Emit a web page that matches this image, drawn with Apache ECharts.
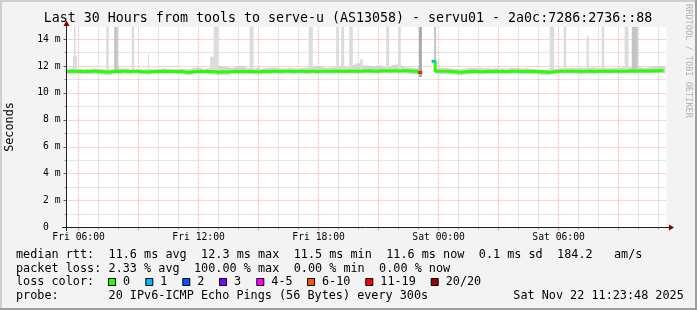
<!DOCTYPE html>
<html><head><meta charset="utf-8">
<script src="https://cdn.jsdelivr.net/npm/echarts@6/dist/echarts.min.js"></script>
<style>html,body{margin:0;padding:0;background:#f3f3f3;}#c{width:697px;height:310px;}</style>
</head><body><div id="c"></div>
<script>
// ================= DATA =================
// time is expressed in hours since Fri 00:00
const rangeStartHour = 5 + 23.8 / 60;   // Fri 05:23:48
const rangeHours = 30;
const firstSampleHour = 5 + 25 / 60;    // first plotted sample, Fri 05:25
const sampleStepHours = 1 / 6;          // one value every 10 minutes

// median rtt (ms); one row per hour (6 samples), null = 100% loss
const medianRtt = [
  11.60, 11.62, 11.61, 11.60, 11.61, 11.60,
  11.61, 11.60, 11.62, 11.61, 11.60, 11.58,
  11.55, 11.56, 11.60, 11.61, 11.60, 11.62,
  11.61, 11.60, 11.61, 11.62, 11.60, 11.58,
  11.56, 11.58, 11.60, 11.61, 11.60, 11.61,
  11.60, 11.61, 11.60, 11.60, 11.61, 11.57,
  11.53, 11.54, 11.58, 11.60, 11.61, 11.60,
  11.61, 11.60, 11.59, 11.55, 11.56, 11.57,
  11.55, 11.58, 11.60, 11.61, 11.60, 11.62,
  11.60, 11.61, 11.60, 11.57, 11.58, 11.60,
  11.61, 11.60, 11.62, 11.61, 11.60, 11.61,
  11.62, 11.61, 11.60, 11.61, 11.62, 11.61,
  11.60, 11.61, 11.62, 11.60, 11.61, 11.62,
  11.61, 11.62, 11.61, 11.63, 11.62, 11.61,
  11.62, 11.63, 11.62, 11.61, 11.62, 11.63,
  11.63, 11.64, 11.63, 11.62, 11.63, 11.64,
  11.64, 11.63, 11.64, 11.65, 11.63, 11.64,
  11.64, 11.63, 11.62, 11.61, 11.52, null,
  null,  null,  12.35, 11.62, 11.61, 11.62,
  11.61, 11.60, 11.58, 11.55, 11.54, 11.57,
  11.58, 11.60, 11.61, 11.60, 11.58, 11.60,
  11.61, 11.60, 11.61, 11.60, 11.61, 11.60,
  11.60, 11.61, 11.62, 11.61, 11.60, 11.61,
  11.60, 11.61, 11.60, 11.58, 11.57, 11.55,
  11.53, 11.56, 11.60, 11.61, 11.62, 11.61,
  11.62, 11.61, 11.62, 11.61, 11.60, 11.61,
  11.62, 11.61, 11.60, 11.61, 11.62, 11.63,
  11.62, 11.61, 11.63, 11.62, 11.61, 11.62,
  11.63, 11.64, 11.62, 11.63, 11.64, 11.63,
  11.64, 11.63, 11.65, 11.64, 11.66, 11.64
];

// lowest / highest ping of the "smoke" per sample (ms)
const smokeLow = [
  11.42, 11.38, 11.40, 11.44, 11.40, 11.42,
  11.40, 11.44, 11.42, 11.40, 11.38, 11.36,
  11.34, 11.36, 11.40, 11.42, 11.40, 11.44,
  11.42, 11.40, 11.44, 11.42, 11.38, 11.40,
  11.36, 11.38, 11.42, 11.40, 11.44, 11.42,
  11.40, 11.42, 11.44, 11.40, 11.42, 11.38,
  11.32, 11.34, 11.38, 11.42, 11.40, 11.42,
  11.40, 11.38, 11.36, 11.32, 11.34, 11.36,
  11.34, 11.38, 11.40, 11.42, 11.40, 11.38,
  11.40, 11.42, 11.40, 11.36, 11.38, 11.40,
  11.42, 11.40, 11.44, 11.42, 11.40, 11.42,
  11.44, 11.42, 11.40, 11.42, 11.44, 11.42,
  11.40, 11.42, 11.44, 11.40, 11.42, 11.44,
  11.42, 11.44, 11.42, 11.45, 11.44, 11.42,
  11.44, 11.45, 11.44, 11.42, 11.44, 11.45,
  11.45, 11.46, 11.44, 11.42, 11.45, 11.46,
  11.46, 11.44, 11.45, 11.47, 11.44, 11.46,
  11.44, 11.42, 11.40, 11.38, 11.20, null,
  null,  null,  null,  11.42, 11.40, 11.42,
  11.40, 11.38, 11.36, 11.34, 11.32, 11.36,
  11.38, 11.40, 11.42, 11.40, 11.38, 11.40,
  11.42, 11.40, 11.42, 11.40, 11.42, 11.40,
  11.40, 11.42, 11.44, 11.42, 11.40, 11.42,
  11.40, 11.42, 11.40, 11.38, 11.36, 11.34,
  11.32, 11.36, 11.40, 11.42, 11.44, 11.42,
  11.44, 11.42, 11.44, 11.42, 11.40, 11.42,
  11.44, 11.42, 11.40, 11.42, 11.44, 11.45,
  11.44, 11.42, 11.45, 11.44, 11.42, 11.44,
  11.45, 11.46, 11.44, 11.45, 11.46, 11.45,
  11.46, 11.45, 11.47, 11.46, 11.48, 11.46
];
const smokeHigh = [
  11.75, 11.82, 11.85, 11.80, 11.78, 11.75,
  11.76, 11.80, 11.82, 11.80, 11.78, 11.76,
  11.74, 11.76, 11.78, 11.80, 11.84, 11.82,
  11.82, 11.76, 11.75, 11.78, 11.76, 11.74,
  11.76, 11.78, 11.74, 11.76, 11.80, 11.82,
  11.80, 11.78, 11.76, 11.75, 11.77, 11.78,
  11.76, 11.78, 11.85, 11.90, 11.86, 11.78,
  11.80, 11.85, 11.82, 11.95, 12.00, 11.96,
  11.92, 11.85, 11.88, 11.96, 12.02, 11.94,
  11.85, 11.82, 11.80, 11.85, 11.80, 11.82,
  11.84, 11.88, 11.90, 11.86, 11.82, 11.80,
  11.82, 11.86, 11.84, 11.80, 11.84, 11.86,
  11.88, 11.92, 11.98, 12.00, 11.96, 11.90,
  11.86, 11.88, 11.92, 11.90, 11.94, 11.92,
  11.90, 11.96, 12.10, 12.18, 12.20, 12.05,
  12.05, 12.02, 12.00, 11.98, 12.04, 11.95,
  11.92, 11.96, 12.08, 12.10, 12.05, 11.95,
  11.90, 11.88, 11.86, 11.84, 11.80, null,
  null,  null,  null,  11.82, 11.86, 11.84,
  11.85, 11.82, 11.80, 11.78, 11.76, 11.80,
  11.82, 11.86, 11.85, 11.84, 11.86, 11.82,
  11.84, 11.80, 11.82, 11.84, 11.80, 11.82,
  11.80, 11.84, 11.86, 11.85, 11.82, 11.80,
  11.84, 11.80, 11.78, 11.76, 11.74, 11.72,
  11.70, 11.74, 11.78, 11.80, 11.84, 11.82,
  11.84, 11.86, 11.85, 11.82, 11.86, 11.84,
  11.84, 11.88, 11.90, 11.86, 11.84, 11.86,
  11.82, 11.84, 11.86, 11.84, 11.88, 11.90,
  11.92, 11.90, 11.88, 11.92, 11.90, 11.86,
  11.88, 11.90, 11.95, 12.00, 12.02, 11.98
];

// samples with lost pings: sample index, pings lost out of 20
const lossSampleIndex = [106, 107, 108, 109, 110];
const lossPings       = [15,  20,  20,  20,  1];

// outlier pings ("spikes" of smoke): start/end hour, bottom/top ms, darkness level
// a top of 16 ms means above the top of the scale
const spikeStart  = [5.72, 5.77, 7.38, 7.78, 8.66, 9.47, 12.58, 12.75, 14.55, 17.50, 18.88, 19.13, 19.53, 20.08, 21.38, 21.98, 23.03, 23.78, 29.55, 30.25, 31.40, 32.15, 33.30, 33.66];
const spikeEnd    = [5.92, 5.85, 7.51, 7.96, 8.78, 9.52, 12.78, 12.98, 14.75, 17.71, 19.01, 19.28, 19.71, 20.21, 21.53, 22.11, 23.16, 23.88, 29.78, 30.38, 31.51, 32.28, 33.50, 33.96];
const spikeBottom = [11.5, 11.7, 11.7, 11.7, 11.7, 11.7, 11.7, 11.7, 11.7, 11.7, 11.7, 11.7, 11.7, 11.7, 11.7, 11.7, 11.2, 12.3, 11.7, 11.7, 11.7, 11.7, 11.7, 11.7];
const spikeTop    = [12.7, 16, 16, 16, 16, 12.9, 12.7, 16, 16, 16, 16, 16, 16, 12.5, 16, 16, 16, 16, 16, 16, 14.2, 16, 16, 16];
const spikeLevel  = [1, 1, 1, 2, 1, 1, 1, 1, 1, 1, 1, 1, 1, 1, 1, 1, 3, 2, 1, 1, 1, 1, 1, 2];

// axes
const xLabelHours = [6, 12, 18, 24, 30];
const xLabelTexts = ['Fri 06:00', 'Fri 12:00', 'Fri 18:00', 'Sat 00:00', 'Sat 06:00'];
const yMax = 14.9;
const yLabelValues = [0, 2, 4, 6, 8, 10, 12, 14];
const yLabelTexts  = ['0  ', '2 m', '4 m', '6 m', '8 m', '10 m', '12 m', '14 m'];

// legend texts
const titleText = 'Last 30 Hours from tools to serve-u (AS13058) - servu01 - 2a0c:7286:2736::88';
const rttLine = ['median rtt:', '11.6 ms avg', '12.3 ms max', '11.5 ms min', '11.6 ms now', '0.1 ms sd', '184.2   am/s'];
const lossLine = ['packet loss:', '2.33 % avg', '100.00 % max', '0.00 % min', '0.00 % now'];
const lossColorLabels = ['0', '1', '2', '3', '4-5', '6-10', '11-19', '20/20'];
const lossColorUpper  = [0, 1, 2, 3, 5, 10, 19, 20];
const probeText = '20 IPv6-ICMP Echo Pings (56 Bytes) every 300s';
const dateText = 'Sat Nov 22 11:23:48 2025';

// ================= STYLE =================
const lossColors = ['#26ff00', '#00b8ff', '#0059ff', '#7e00ff', '#ff00ff', '#ff5500', '#ff0000', '#a10000'];
const spikeShades = { 1: '#dcdcdc', 2: '#c4c4c4', 3: '#a2a2a2' };
const smokeShade = '#d4d4d4';
const FONT = 'DejaVu Sans Mono';
const GRID = { left: 66.5, top: 27, width: 600, height: 200.5 };

// ================= BUILD =================
const sampleHour = i => firstSampleHour + i * sampleStepHours;
const medianData = medianRtt.map((v, i) => [sampleHour(i), v]);
const smokeData = [];
smokeLow.forEach((lo, i) => { if (lo != null && smokeHigh[i] != null) smokeData.push([sampleHour(i), lo, smokeHigh[i]]); });
const lossColorFor = n => { for (let k = 0; k < lossColorUpper.length; k++) if (n <= lossColorUpper[k]) return lossColors[k]; return lossColors[lossColors.length - 1]; };
const lossPoints = [];
lossSampleIndex.forEach((idx, k) => {
  if (medianRtt[idx] != null) lossPoints.push({ value: [sampleHour(idx), medianRtt[idx]], itemStyle: { color: lossColorFor(lossPings[k]) } });
});
const spikeData = spikeStart.map((s, i) => [s, spikeEnd[i], spikeBottom[i], spikeTop[i], spikeLevel[i]]);

const xMin = rangeStartHour, xMax = rangeStartHour + rangeHours;
const minorHours = [], majorHours = [];
for (let h = Math.ceil(xMin); h <= xMax; h++) { (h % 3 === 0 ? majorHours : minorHours).push(h); }
const yMinor = [], yMajor = [];
for (let v = 1; v <= yMax; v++) { (v % 2 === 0 ? yMajor : yMinor).push(v); }

const minorLine = { color: 'rgba(143,143,143,0.45)', width: 1, type: [1, 1] };
const majorLine = { color: 'rgba(255,95,95,0.55)', width: 1, type: [1, 1] };

const xAxes = [
  { type: 'value', position: 'bottom', min: xMin, max: xMax, axisLine: { show: false }, axisLabel: { show: false }, axisTick: { show: false }, splitLine: { show: false } },
  { type: 'value', position: 'bottom', min: xMin, max: xMax, axisLine: { show: false }, axisLabel: { show: false },
    axisTick: { show: true, customValues: minorHours, length: 2, lineStyle: { color: '#b0b0b0' } },
    splitLine: { show: true, lineStyle: minorLine } },
  { type: 'value', position: 'bottom', min: xMin, max: xMax, axisLine: { show: false }, axisLabel: { show: false },
    axisTick: { show: true, customValues: majorHours, length: 3, lineStyle: { color: '#ff8a8a' } },
    splitLine: { show: true, lineStyle: majorLine } },
  { type: 'value', position: 'bottom', min: xMin, max: xMax, axisLine: { show: false }, axisTick: { show: false }, splitLine: { show: false },
    axisLabel: { show: true, customValues: xLabelHours, margin: 5, color: '#000', fontFamily: FONT, fontSize: 9.7,
      formatter: v => xLabelTexts[xLabelHours.indexOf(Math.round(v))] || '' } }
];
const yAxes = [
  { type: 'value', position: 'left', min: 0, max: yMax, axisLine: { show: false }, splitLine: { show: false },
    axisTick: { show: true, customValues: yLabelValues, length: 3, lineStyle: { color: '#555' } },
    axisLabel: { show: true, customValues: yLabelValues, margin: 6, color: '#000', fontFamily: FONT, fontSize: 9.7,
      formatter: v => yLabelTexts[yLabelValues.indexOf(Math.round(v))] || '' } },
  { type: 'value', position: 'left', min: 0, max: yMax, axisLine: { show: false }, axisLabel: { show: false },
    axisTick: { show: true, customValues: yMinor, length: 2, lineStyle: { color: '#999' } },
    splitLine: { show: true, lineStyle: minorLine } },
  { type: 'value', position: 'left', min: 0, max: yMax, axisLine: { show: false }, axisLabel: { show: false },
    axisTick: { show: false, customValues: yMajor },
    splitLine: { show: true, lineStyle: majorLine } }
];

const graphics = [];
// frame shading
graphics.push({ type: 'rect', shape: { x: 0, y: 0, width: 697, height: 2 }, style: { fill: '#cfcfcf' }, silent: true });
graphics.push({ type: 'rect', shape: { x: 0, y: 0, width: 2, height: 310 }, style: { fill: '#cfcfcf' }, silent: true });
graphics.push({ type: 'rect', shape: { x: 0, y: 308, width: 697, height: 2 }, style: { fill: '#9e9e9e' }, silent: true });
graphics.push({ type: 'rect', shape: { x: 695, y: 0, width: 2, height: 310 }, style: { fill: '#9e9e9e' }, silent: true });
// axes lines + arrows
graphics.push({ type: 'line', shape: { x1: 62, y1: 227.5, x2: 669, y2: 227.5 }, style: { stroke: '#202020', lineWidth: 1 }, z: 50 });
graphics.push({ type: 'line', shape: { x1: 66.5, y1: 231, x2: 66.5, y2: 25 }, style: { stroke: '#202020', lineWidth: 1 }, z: 50 });
graphics.push({ type: 'polygon', shape: { points: [[669, 224.5], [669, 230.5], [674, 227.5]] }, style: { fill: '#7f0000' }, z: 51 });
graphics.push({ type: 'polygon', shape: { points: [[63.5, 26], [69.5, 26], [66.5, 20.5]] }, style: { fill: '#7f0000' }, z: 51 });
// title
graphics.push({ type: 'text', x: 348, y: 19, style: { text: titleText, font: '13.3px "' + FONT + '"', fill: '#000', align: 'center', verticalAlign: 'middle' } });
// y axis name
graphics.push({ type: 'text', x: 10, y: 127, rotation: Math.PI / 2, style: { text: 'Seconds', font: '11.8px "' + FONT + '"', fill: '#000', align: 'center', verticalAlign: 'middle' } });
// watermark
graphics.push({ type: 'text', x: 688, y: 61, rotation: -Math.PI / 2, style: { text: 'RRDTOOL / TOBI OETIKER', font: '8.6px "' + FONT + '"', fill: '#b4b4b4', align: 'center', verticalAlign: 'middle' } });
// legend lines
const LF = '11.8px "' + FONT + '"';
const col = c => 16 + c * 7.12;
const put = (text, x, y) => graphics.push({ type: 'text', x: x, y: y, style: { text: text, font: LF, fill: '#000', align: 'left', verticalAlign: 'middle' } });
[0, 13, 26, 39, 52, 65, 76].forEach((c, i) => put(rttLine[i], col(c), 254.5));
[0, 13, 25, 39, 51].forEach((c, i) => put(lossLine[i], col(c), 268.5));
put('loss color:', col(0), 282.3);
const sqX = [108.5, 145.8, 182.8, 219.5, 256.8, 307.5, 365.8, 431.2];
sqX.forEach((x, i) => {
  graphics.push({ type: 'rect', shape: { x: x, y: 278.5, width: 7, height: 7 }, style: { fill: lossColors[i], stroke: '#000', lineWidth: 1 } });
  put(lossColorLabels[i], x + 14.5, 282.3);
});
put('probe:', col(0), 296);
put(probeText, col(13), 296);
put(dateText, 513.3, 296);

function clipTo(params, r) {
  const cs = params.coordSys;
  return echarts.graphic.clipRectByRect(r, { x: cs.x, y: cs.y, width: cs.width, height: cs.height });
}

const option = {
  animation: false,
  backgroundColor: '#f3f3f3',
  grid: Object.assign({ show: true, backgroundColor: '#ffffff', borderWidth: 0 }, GRID),
  xAxis: xAxes,
  yAxis: yAxes,
  graphic: graphics,
  series: [
    { type: 'custom', data: smokeData, encode: { x: 0, y: [1, 2] }, silent: true, z: 2,
      renderItem: function (params, api) {
        const t = api.value(0);
        const p0 = api.coord([t - sampleStepHours / 2, api.value(2)]);
        const p1 = api.coord([t + sampleStepHours / 2, api.value(1)]);
        const shape = clipTo(params, { x: p0[0], y: p0[1], width: p1[0] - p0[0] + 0.3, height: p1[1] - p0[1] });
        return shape && { type: 'rect', shape: shape, style: { fill: smokeShade } };
      } },
    { type: 'custom', data: spikeData, encode: { x: [0, 1], y: [2, 3] }, silent: true, z: 3,
      renderItem: function (params, api) {
        const p0 = api.coord([api.value(0), api.value(3)]);
        const p1 = api.coord([api.value(1), api.value(2)]);
        const shape = clipTo(params, { x: p0[0], y: p0[1], width: Math.max(1, p1[0] - p0[0]), height: p1[1] - p0[1] });
        return shape && { type: 'rect', shape: shape, style: { fill: spikeShades[api.value(4)] } };
      } },
    { type: 'line', data: medianData, step: 'middle', symbol: 'none', connectNulls: false,
      lineStyle: { color: lossColors[0], width: 3 }, silent: true, z: 4 },
    { type: 'scatter', data: lossPoints, symbol: 'rect', symbolSize: [4, 3], silent: true, z: 5 }
  ]
};
const chart = echarts.init(document.getElementById('c'), null, { renderer: 'canvas', width: 697, height: 310 });
chart.setOption(option);
</script>
</body></html>
